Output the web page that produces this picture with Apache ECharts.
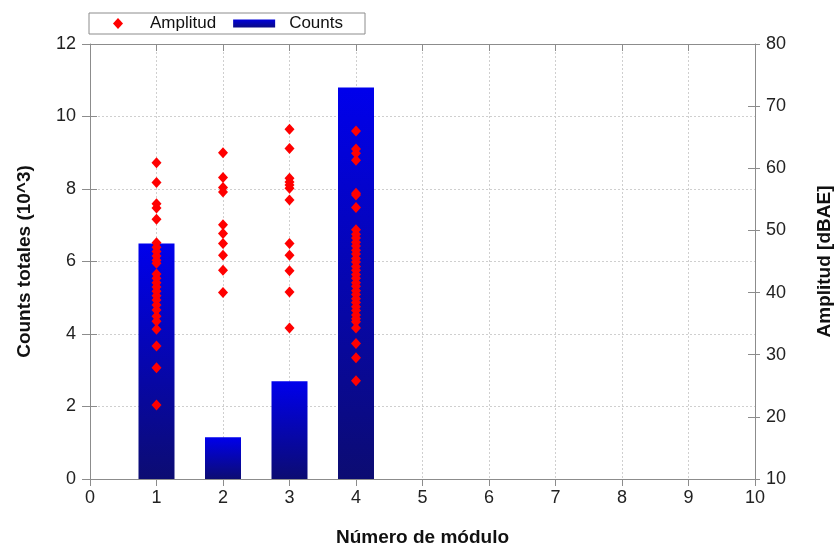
<!DOCTYPE html>
<html>
<head>
<meta charset="utf-8">
<script src="https://cdn.jsdelivr.net/npm/echarts@6/dist/echarts.min.js"></script>
<style>html,body{margin:0;padding:0;background:#fff}#c{width:835px;height:550px}</style>
</head>
<body>
<div id="c"></div>
<script>
// ---- data ----
var modules = [1, 2, 3, 4];
var counts = [6.5, 1.15, 2.7, 10.8];           // x10^3
var amp1 = [60.9, 57.7, 54.3, 53.6, 51.8, 48.0, 47.3, 46.6, 45.9, 45.2, 44.7,
            43.0, 42.3, 41.6, 40.9, 40.2, 39.5, 38.8, 38.0, 37.2, 36.2, 35.4, 34.1, 31.4, 27.9, 21.9];
var amp2 = [62.5, 58.5, 56.9, 56.2, 50.9, 49.5, 47.9, 46.0, 43.6, 40.0];
var amp3 = [66.3, 63.2, 58.4, 57.8, 57.3, 56.8, 54.9, 47.9, 46.0, 43.5, 40.1, 34.3];
var amp4 = [66.0, 63.1, 62.4, 61.3, 56.0, 55.7, 53.7, 50.1, 49.4, 48.8, 48.1, 47.5, 46.8, 46.2,
            45.5, 44.9, 44.2, 43.6, 42.9, 42.3, 41.6, 41.0, 40.3, 39.7, 39.0, 38.4, 37.7, 37.1,
            36.4, 35.8, 35.3, 34.3, 31.8, 29.5, 25.8];
var xTicks = [0, 10, 1];
var leftTicks = [0, 12, 2];
var rightTicks = [10, 80, 10];

var ampByModule = [amp1, amp2, amp3, amp4];
var scatterData = [];
ampByModule.forEach(function (arr, i) {
  arr.forEach(function (v) { scatterData.push([modules[i], v]); });
});
var barData = modules.map(function (m, i) { return [m, counts[i]]; });

var FONT = 'Liberation Sans, Arial, sans-serif';
var axisColor = '#8c8c8c';
var gridLine = { show: true, lineStyle: { color: '#cfcfcf', type: [2, 2], width: 1 } };
function gridBox() {
  return { left: 90, right: 80, top: 44, bottom: 71, containLabel: false, outerBoundsMode: 'none' };
}

// legend icons drawn in a 42x11 box (invisible move-to points fix the box)
var diamondIcon = 'path://M-21,-5.5M21,5.5M0,-5.5L5,0L0,5.5L-5,0Z';
var rectIcon = 'path://M-21,-5.5M21,5.5M-21,-4L21,-4L21,4L-21,4Z';

var chart = echarts.init(document.getElementById('c'), null, { renderer: 'canvas' });
chart.setOption({
  animation: false,
  textStyle: { fontFamily: FONT },
  grid: [gridBox(), gridBox()],
  legend: {
    left: 89, top: 13,
    padding: [2, 22, 2, 8],
    borderColor: '#8c8c8c', borderWidth: 1, borderRadius: 0,
    itemGap: 17, itemWidth: 42, itemHeight: 11,
    textStyle: { fontSize: 17, color: '#111', fontFamily: FONT, padding: [0, 0, 0, 6] },
    data: [
      { name: 'Amplitud', icon: diamondIcon },
      { name: 'Counts', icon: rectIcon, textStyle: { fontSize: 17, color: '#111', padding: [0, 0, 0, 9] } }
    ]
  },
  xAxis: [{
    gridIndex: 0,
    type: 'value', min: xTicks[0], max: xTicks[1], interval: xTicks[2],
    name: 'Número de módulo', nameLocation: 'middle', nameGap: 49,
    nameTextStyle: { fontSize: 19, fontWeight: 'bold', color: '#111', fontFamily: FONT },
    axisLine: { show: true, onZero: false, lineStyle: { color: axisColor } },
    axisTick: { show: true, length: 7, lineStyle: { color: axisColor } },
    axisLabel: { fontSize: 18, color: '#222', margin: 10, fontFamily: FONT },
    splitLine: gridLine
  }, {
    gridIndex: 0,
    type: 'value', position: 'top', min: xTicks[0], max: xTicks[1], interval: xTicks[2],
    axisLine: { show: true, onZero: false, lineStyle: { color: axisColor } },
    axisTick: { show: true, inside: true, length: 7, lineStyle: { color: axisColor } },
    axisLabel: { show: false }, splitLine: { show: false }
  }, {
    gridIndex: 1, show: false,
    type: 'value', min: xTicks[0], max: xTicks[1], interval: xTicks[2]
  }],
  yAxis: [{
    gridIndex: 0,
    type: 'value', position: 'left', min: leftTicks[0], max: leftTicks[1], interval: leftTicks[2],
    name: 'Counts totales (10^3)', nameLocation: 'middle', nameGap: 56, nameRotate: 90,
    nameTextStyle: { fontSize: 19, fontWeight: 'bold', color: '#111', fontFamily: FONT },
    axisLine: { show: true, onZero: false, lineStyle: { color: axisColor } },
    axisTick: { show: true, length: 8, lineStyle: { color: axisColor } },
    axisLabel: { fontSize: 18, color: '#222', margin: 14, fontFamily: FONT },
    splitLine: gridLine
  }, {
    gridIndex: 0,
    type: 'value', position: 'right', min: rightTicks[0], max: rightTicks[1], interval: rightTicks[2],
    name: 'Amplitud [dBAE]', nameLocation: 'middle', nameGap: 60, nameRotate: 90,
    nameTextStyle: { fontSize: 19, fontWeight: 'bold', color: '#111', fontFamily: FONT },
    axisLine: { show: true, onZero: false, lineStyle: { color: axisColor } },
    axisTick: { show: true, length: 5, lineStyle: { color: axisColor } },
    axisLabel: { fontSize: 18, color: '#222', margin: 11, fontFamily: FONT },
    splitLine: { show: false }
  }, {
    gridIndex: 1,
    type: 'value', position: 'left', min: leftTicks[0], max: leftTicks[1], interval: leftTicks[2],
    axisLine: { show: false }, axisLabel: { show: false }, splitLine: { show: false },
    axisTick: { show: true, inside: true, length: 7, lineStyle: { color: axisColor } }
  }, {
    gridIndex: 1,
    type: 'value', position: 'right', min: rightTicks[0], max: rightTicks[1], interval: rightTicks[2],
    axisLine: { show: false }, axisLabel: { show: false }, splitLine: { show: false },
    axisTick: { show: true, inside: true, length: 7, lineStyle: { color: axisColor } }
  }],
  series: [{
    name: 'Counts', type: 'bar', xAxisIndex: 0, yAxisIndex: 0, barWidth: 36,
    data: barData,
    itemStyle: {
      color: new echarts.graphic.LinearGradient(0, 0, 0, 1, [
        { offset: 0, color: '#0000ec' }, { offset: 1, color: '#0c0c72' }
      ])
    },
    z: 2
  }, {
    name: 'Amplitud', type: 'scatter', xAxisIndex: 0, yAxisIndex: 1,
    symbol: 'diamond', symbolSize: [10, 11],
    itemStyle: { color: '#ff0000', opacity: 1 },
    data: scatterData, z: 3
  }]
});
</script>
</body>
</html>
